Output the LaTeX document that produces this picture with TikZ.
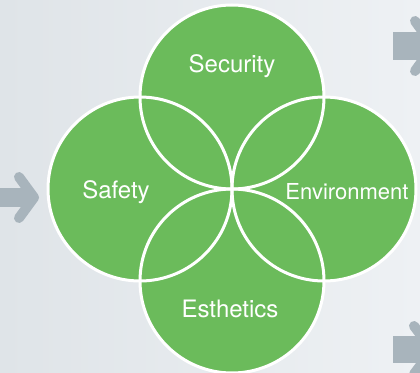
\documentclass[tikz,border=0pt]{standalone}
\usepackage{fontspec}
\setmainfont{TeX Gyre Heros}
\definecolor{bgL}{HTML}{DFE4E8}
\definecolor{bgR}{HTML}{EEF1F4}
\definecolor{leaf}{HTML}{6BBB5B}
\definecolor{arrowgray}{HTML}{A8B4BC}
\tikzset{
  x=1pt, y=-1pt,
  petal/.style={circle, minimum size=184pt, inner sep=0pt, fill=leaf},
  rim/.style={draw=white, line width=3pt},
  lbl/.style={text=white, anchor=base, font=\fontsize{24}{24}\selectfont, inner sep=0pt},
  shaft/.style={fill=arrowgray},
  chev/.style={draw=arrowgray, line width=10pt, line cap=round, line join=round}
}
\begin{document}
\begin{tikzpicture}
\useasboundingbox (0,0) rectangle (420,372);
\shade[left color=bgL, right color=bgR] (0,0) rectangle (420,372);
% arrows
\fill[shaft] (0,188) rectangle (30,207);
\draw[chev] (19,177) -- (34,197.5) -- (19,218);
\fill[shaft] (393,32) rectangle (425,60);
\draw[chev] (415,21) -- (433,46) -- (415,71);
\fill[shaft] (393,336) rectangle (425,363);
\draw[chev] (414,326) -- (432,350) -- (414,374);
% circles
\node[petal] (sec) at (232,97) {};
\node[petal] (saf) at (140,189) {};
\node[petal] (env) at (324,189) {};
\node[petal] (est) at (232,281) {};
\foreach \n in {sec,saf,env,est}
  \draw[rim] (\n.center) circle[radius=92pt];
% labels
\node[lbl] (tsec) at (232,72) {Security};
\node[lbl] (tsaf) at (116,198) {Safety};
\node[lbl, font=\fontsize{22}{22}\selectfont] (tenv) at (347,199) {Environment};
\node[lbl] (test) at (230,317) {Esthetics};
\end{tikzpicture}
\end{document}
